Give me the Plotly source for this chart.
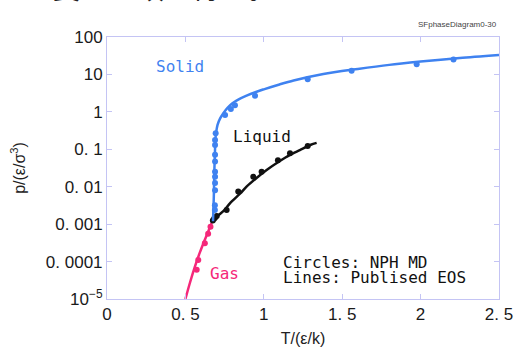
import plotly.graph_objects as go

# ---- data ----
solid_line_T = [0.676, 0.681, 0.685, 0.689, 0.692, 0.697, 0.705, 0.72, 0.742, 0.77, 0.80, 0.84, 0.89, 0.95, 1.0, 1.1, 1.19, 1.38, 1.6, 1.8, 2.0, 2.25, 2.5]
solid_line_p = [1.2e-3, 5e-3, 0.03, 0.1, 0.2, 0.3, 0.45, 0.65, 0.92, 1.3, 1.7, 2.15, 2.7, 3.4, 4.0, 5.4, 6.9, 10.3, 14.0, 18.0, 22.0, 27.5, 33.0]
solid_pts_T = [0.689, 0.689, 0.689, 0.689, 0.689, 0.689, 0.689, 0.689, 0.688, 0.688, 0.693, 0.753, 0.79, 0.816, 0.944, 1.28, 1.56, 1.975, 2.21]
solid_pts_p = [0.178, 0.13, 0.071, 0.047, 0.025, 0.0186, 0.0126, 0.0081, 0.0032, 0.0024, 0.27, 0.83, 1.2, 1.5, 2.7, 7.4, 12.6, 18.7, 25.0]

liquid_line_T = [0.667, 0.70, 0.75, 0.784, 0.85, 0.89, 0.95, 1.018, 1.1, 1.167, 1.23, 1.3, 1.337]
liquid_line_p = [1.12e-3, 1.58e-3, 2.4e-3, 3.6e-3, 6.6e-3, 0.01, 0.0166, 0.028, 0.048, 0.071, 0.095, 0.132, 0.148]
liquid_pts_T = [0.675, 0.683, 0.69, 0.70, 0.763, 0.837, 0.933, 0.986, 1.09, 1.167, 1.28]
liquid_pts_p = [1.25e-3, 1.4e-3, 1.5e-3, 1.65e-3, 2.4e-3, 7.4e-3, 0.0186, 0.025, 0.051, 0.078, 0.123]

gas_line_T = [0.50, 0.53, 0.56, 0.59, 0.62, 0.645, 0.667]
gas_line_p = [1.0e-5, 2.8e-5, 7.2e-5, 1.65e-4, 3.5e-4, 6.3e-4, 1.07e-3]
gas_pts_T = [0.572, 0.582, 0.624, 0.645, 0.66]
gas_pts_p = [6.0e-5, 1.1e-4, 3.1e-4, 5.5e-4, 8.5e-4]

y_tickvals = [1e-5, 1e-4, 1e-3, 1e-2, 1e-1, 1, 10, 100]
y_ticktext = ["10<sup>−5</sup>", "0. 0001", "0. 001", "0. 01", "0. 1", "1", "10", "100"]
x_tickvals = [0, 0.5, 1, 1.5, 2, 2.5]
x_ticktext = ["0", "0. 5", "1", "1. 5", "2", "2. 5"]

BLUE = "#3f82f0"
PINK = "#f5287a"
BLACK = "#111111"
AXIS = "#c4c4f4"
MONO = "DejaVu Sans Mono"

fig = go.Figure()
for lt, lp, pt, pp, c in [
    (gas_line_T, gas_line_p, gas_pts_T, gas_pts_p, PINK),
    (liquid_line_T, liquid_line_p, liquid_pts_T, liquid_pts_p, BLACK),
    (solid_line_T, solid_line_p, solid_pts_T, solid_pts_p, BLUE),
]:
    fig.add_trace(go.Scatter(x=lt, y=lp, mode="lines", line=dict(color=c, width=2.5, shape="spline", smoothing=0.8),
                             showlegend=False, hoverinfo="skip"))
    fig.add_trace(go.Scatter(x=pt, y=pp, mode="markers", marker=dict(color=c, size=6),
                             showlegend=False))

axis_common = dict(showline=True, linecolor=AXIS, linewidth=1, mirror="ticks", ticks="inside",
                   ticklen=5, tickcolor=AXIS, showgrid=False, zeroline=False, automargin=False,
                   tickfont=dict(family="Liberation Sans", size=17, color="#1a1a1a"))
fig.update_xaxes(range=[0, 2.5], tickvals=x_tickvals, ticktext=x_ticktext,
                 title=dict(text="T/(ε/k)", font=dict(family="Liberation Sans", size=16, color="#222222"), standoff=10),
                 **axis_common)
fig.update_yaxes(type="log", range=[-5, 2], tickvals=y_tickvals, ticktext=y_ticktext,
                 title=dict(text="p/(ε/σ<sup>3</sup>)", font=dict(family="Liberation Sans", size=16, color="#222222"), standoff=16),
                 **axis_common)

def txt(x, y, s, color, size=16, xanchor="center"):
    # y is given in log10 units (annotation coordinates on a log axis)
    fig.add_annotation(x=x, y=y, xref="x", yref="y", text=s, showarrow=False,
                       font=dict(family=MONO, size=size, color=color), xanchor=xanchor, yanchor="middle")

txt(0.466, 1.21, "Solid", BLUE)
txt(0.99, -0.66, "Liquid", BLACK)
txt(0.75, -4.31, "Gas", PINK)
txt(1.11, -4.02, "Circles: NPH MD", BLACK, xanchor="left")
txt(1.11, -4.42, "Lines: Publised EOS", BLACK, xanchor="left")

fig.add_annotation(x=1.0, y=(299 - 25) / 262, xref="paper", yref="paper", text="SFphaseDiagram0-30",
                   showarrow=False, xanchor="right", yanchor="middle",
                   font=dict(family="Liberation Sans", size=8, color="#444444"))
fig.add_annotation(x=(22 - 107) / 392, y=(299 + 13) / 262, xref="paper", yref="paper", text="て良い一致を得た。",
                   showarrow=False, xanchor="left", yanchor="middle",
                   font=dict(family="Noto Sans CJK JP", size=28, color="#222222"))

fig.update_layout(width=517, height=347, margin=dict(l=107, r=18, t=37, b=48),
                  paper_bgcolor="white", plot_bgcolor="white")
fig.write_html("out.html", config={"displayModeBar": False},
               post_script="document.body.style.margin='0';document.body.style.overflow='hidden';")
